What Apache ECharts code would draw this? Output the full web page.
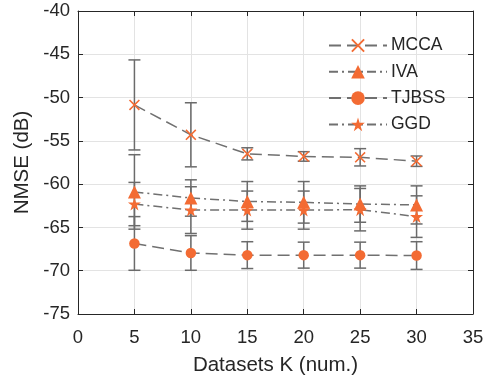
<!DOCTYPE html>
<html><head><meta charset="utf-8">
<script src="https://cdn.jsdelivr.net/npm/echarts@6/dist/echarts.min.js"></script>
<style>html,body{margin:0;padding:0;background:#fff}#c{width:491px;height:381px}</style>
</head><body><div id="c"></div>
<script>
const K = [5, 10, 15, 20, 25, 30];
const xTicks = [0, 5, 10, 15, 20, 25, 30, 35];
const yTicks = [-75, -70, -65, -60, -55, -50, -45, -40];
const seriesNames = ['MCCA', 'IVA', 'TJBSS', 'GGD'];
const mccaMean = [-50.85, -54.3, -56.5, -56.8, -56.9, -57.35];
const mccaErr  = [5.2, 3.7, 0.7, 0.55, 1.0, 0.6];
const ivaMean  = [-60.9, -61.6, -62.0, -62.1, -62.3, -62.4];
const ivaErr   = [4.3, 2.1, 2.3, 2.4, 2.1, 2.2];
const tjbssMean = [-66.85, -67.95, -68.2, -68.2, -68.2, -68.25];
const tjbssErr  = [3.1, 2.0, 1.55, 1.5, 1.5, 1.6];
const ggdMean  = [-62.3, -63.0, -63.0, -63.0, -62.95, -63.75];
const ggdErr   = [2.5, 2.7, 2.2, 2.2, 2.45, 2.4];

const ORANGE = '#F36B33';
const LINEGRAY = '#707070';
const TXT = '#262626';
const FONT = '"Liberation Sans", Arial, Helvetica, sans-serif';

const X_SYM = 'path://M0,1 L1,0 L5,4 L9,0 L10,1 L6,5 L10,9 L9,10 L5,6 L1,10 L0,9 L4,5 Z';
const STAR_SYM = 'path://M50,0 L61.8,36.2 L100,36.2 L69.1,58.8 L80.9,95.1 L50,72.6 L19.1,95.1 L30.9,58.8 L0,36.2 L38.2,36.2 Z';

const specs = [
  {name: 'MCCA', mean: mccaMean, err: mccaErr, symbol: X_SYM, size: 11, dash: [12, 6]},
  {name: 'IVA', mean: ivaMean, err: ivaErr, symbol: 'triangle', size: 13, dash: [9, 4, 2, 4]},
  {name: 'TJBSS', mean: tjbssMean, err: tjbssErr, symbol: 'circle', size: 10.5, dash: [12, 6]},
  {name: 'GGD', mean: ggdMean, err: ggdErr, symbol: STAR_SYM, size: 13, dash: [9, 4, 2, 4]}
];

function errRender(params, api) {
  const x = api.value(0), m = api.value(1), e = api.value(2);
  const top = api.coord([x, m + e]);
  const bot = api.coord([x, m - e]);
  const hw = 6;
  const st = {stroke: '#6b6b6b', lineWidth: 1.5};
  return {type: 'group', children: [
    {type: 'line', shape: {x1: top[0], y1: top[1], x2: bot[0], y2: bot[1]}, style: st},
    {type: 'line', shape: {x1: top[0] - hw, y1: top[1], x2: top[0] + hw, y2: top[1]}, style: st},
    {type: 'line', shape: {x1: bot[0] - hw, y1: bot[1], x2: bot[0] + hw, y2: bot[1]}, style: st}
  ]};
}

const series = [];
specs.forEach(s => {
  series.push({
    type: 'custom', renderItem: errRender, z: 2, silent: true,
    encode: {x: 0, y: 1},
    data: K.map((k, i) => [k, s.mean[i], s.err[i]])
  });
});
specs.forEach(s => {
  series.push({
    name: s.name, type: 'line', z: 3,
    data: K.map((k, i) => [k, s.mean[i]]),
    symbol: s.symbol, symbolSize: s.size, showAllSymbol: true,
    lineStyle: {color: LINEGRAY, width: 1.5, type: s.dash},
    itemStyle: {color: ORANGE, borderWidth: 0},
    emphasis: {disabled: true}
  });
});

const axisCommon = {
  axisLine: {show: true, onZero: false, lineStyle: {color: TXT, width: 1}},
  axisTick: {show: true, inside: true, length: 5, lineStyle: {color: TXT}},
};

const option = {
  animation: false,
  backgroundColor: '#fff',
  textStyle: {fontFamily: FONT},
  grid: {left: 78, right: 18, top: 11, bottom: 66, show: false},
  legend: {
    data: seriesNames, orient: 'vertical', left: 328, top: 36.5, padding: 0,
    itemWidth: 58, itemHeight: 17, itemGap: 8.3,
    textStyle: {fontSize: 17.5, color: TXT, fontFamily: FONT, padding: [0, 0, 0, -1]},
    backgroundColor: 'transparent'
  },
  xAxis: [
    Object.assign({type: 'value', min: 0, max: 35, interval: 5, position: 'bottom',
      axisLabel: {fontSize: 18.5, color: TXT, margin: 14, fontFamily: FONT},
      splitLine: {show: true, lineStyle: {color: '#e3e3e3', width: 1}},
      name: 'Datasets K (num.)', nameLocation: 'middle', nameGap: 41,
      nameTextStyle: {fontSize: 20.5, color: TXT, fontFamily: FONT}}, axisCommon),
    Object.assign({type: 'value', min: 0, max: 35, interval: 5, position: 'top',
      axisLabel: {show: false}, splitLine: {show: false}}, axisCommon)
  ],
  yAxis: [
    Object.assign({type: 'value', min: -75, max: -40, interval: 5, position: 'left',
      axisLabel: {fontSize: 18.5, color: TXT, margin: 8, fontFamily: FONT, padding: [6, 0, 0, 0]},
      splitLine: {show: true, lineStyle: {color: '#e3e3e3', width: 1}},
      name: 'NMSE (dB)', nameLocation: 'middle', nameGap: 41, nameRotate: 90,
      nameTextStyle: {fontSize: 20.5, color: TXT, fontFamily: FONT}}, axisCommon),
    Object.assign({type: 'value', min: -75, max: -40, interval: 5, position: 'right',
      axisLabel: {show: false}, splitLine: {show: false}}, axisCommon)
  ],
  series: series
};

const chart = echarts.init(document.getElementById('c'), null, {renderer: 'canvas'});
chart.setOption(option);
</script>
</body></html>
